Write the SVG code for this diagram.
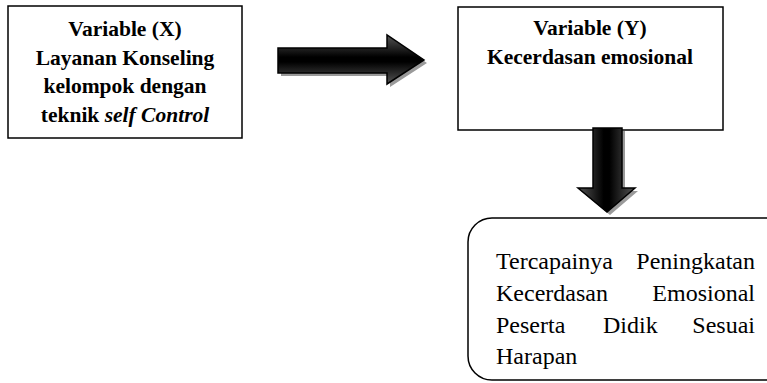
<svg xmlns="http://www.w3.org/2000/svg" width="767" height="383" viewBox="0 0 767 383">
<style>
.box{fill:#fff;stroke:#000;stroke-width:1.5}
.b{font-family:"Liberation Serif",serif;font-weight:bold;font-size:21.5px;fill:#000;text-anchor:middle}
.r{font-family:"Liberation Serif",serif;font-size:24px;fill:#000}
.arrow{stroke:#000;stroke-width:1.5;stroke-linejoin:miter}
.shadow{fill:#9a9a9a;stroke:none}
</style>
<defs>
<linearGradient id="gh" x1="0" y1="0" x2="0" y2="1">
<stop offset="0" stop-color="#555"/>
<stop offset="0.45" stop-color="#000"/>
<stop offset="0.55" stop-color="#000"/>
<stop offset="1" stop-color="#555"/>
</linearGradient>
<linearGradient id="gv" x1="0" y1="0" x2="1" y2="0">
<stop offset="0" stop-color="#555"/>
<stop offset="0.45" stop-color="#000"/>
<stop offset="0.55" stop-color="#000"/>
<stop offset="1" stop-color="#555"/>
</linearGradient>
</defs>
<g id="nodeX">
<rect class="box" x="8" y="6" width="234" height="132"/>
<text class="b" x="125" y="36">Variable (X)</text>
<text class="b" x="125" y="65">Layanan Konseling</text>
<text class="b" x="125" y="93">kelompok dengan</text>
<text class="b" x="125" y="122">teknik <tspan font-style="italic">self Control</tspan></text>
</g>
<g id="nodeY">
<rect class="box" x="458" y="7" width="265" height="123"/>
<text class="b" x="590" y="35">Variable (Y)</text>
<text class="b" x="590" y="64">Kecerdasan emosional</text>
</g>
<g id="nodeResult">
<rect class="box" x="468" y="218" width="330" height="162" rx="24" ry="24"/>
<text class="r" x="496" y="269">Tercapainya</text>
<text class="r" x="755" y="269" text-anchor="end">Peningkatan</text>
<text class="r" x="496" y="301">Kecerdasan</text>
<text class="r" x="755" y="301" text-anchor="end">Emosional</text>
<text class="r" x="496" y="333">Peserta</text>
<text class="r" x="603" y="333">Didik</text>
<text class="r" x="755" y="333" text-anchor="end">Sesuai</text>
<text class="r" x="496" y="364">Harapan</text>
</g>
<g id="connectors">
<path class="shadow" d="M281 51 H390 V38 L427 63 L390 87 V76 H281 Z"/>
<path class="arrow" fill="url(#gh)" d="M278 48 H387 V35 L424 60 L387 84 V73 H278 Z"/>
<path class="shadow" d="M596 131 H625 V191 H638 L610 215 L581 191 H596 Z"/>
<path class="arrow" fill="url(#gv)" d="M593 128 H622 V188 H635 L607 212 L578 188 H593 Z"/>
</g>
</svg>
